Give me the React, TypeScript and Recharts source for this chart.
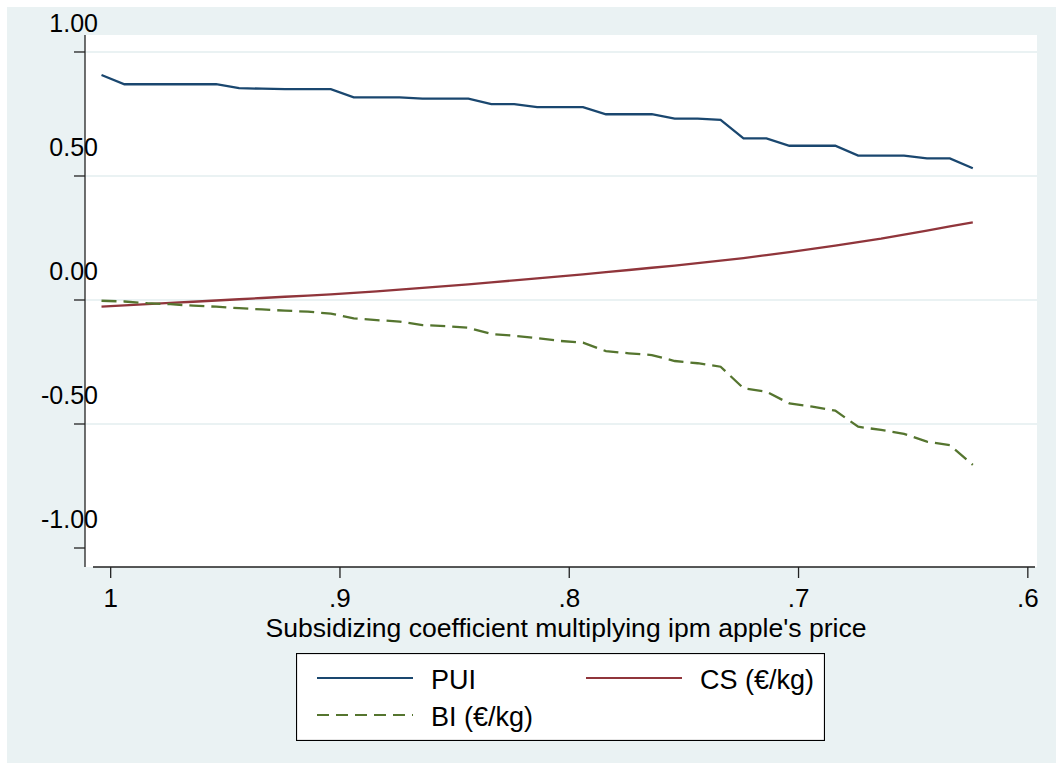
import React from 'react';
import { LineChart, Line, XAxis, YAxis, ReferenceLine, CartesianGrid, Legend, Label } from 'recharts';

const xValues = [1.004, 0.994, 0.984, 0.974, 0.964, 0.954, 0.944, 0.934, 0.924, 0.914, 0.904, 0.894, 0.884, 0.874, 0.864, 0.854, 0.844, 0.834, 0.824, 0.814, 0.804, 0.794, 0.784, 0.774, 0.764, 0.754, 0.744, 0.734, 0.724, 0.714, 0.704, 0.694, 0.684, 0.674, 0.664, 0.654, 0.644, 0.634, 0.624];
const puiValues = [0.907, 0.870, 0.870, 0.870, 0.870, 0.870, 0.854, 0.852, 0.850, 0.850, 0.850, 0.817, 0.817, 0.817, 0.812, 0.812, 0.812, 0.790, 0.790, 0.778, 0.778, 0.778, 0.749, 0.749, 0.749, 0.731, 0.731, 0.726, 0.652, 0.652, 0.622, 0.622, 0.622, 0.582, 0.582, 0.582, 0.571, 0.571, 0.531];
const csValues = [-0.027, -0.022, -0.017, -0.012, -0.007, -0.002, 0.003, 0.008, 0.013, 0.018, 0.023, 0.029, 0.035, 0.042, 0.049, 0.056, 0.063, 0.071, 0.079, 0.087, 0.095, 0.103, 0.112, 0.121, 0.130, 0.139, 0.149, 0.159, 0.169, 0.181, 0.193, 0.206, 0.219, 0.233, 0.247, 0.264, 0.280, 0.297, 0.313];
const biValues = [-0.003, -0.006, -0.013, -0.017, -0.023, -0.027, -0.033, -0.038, -0.043, -0.047, -0.055, -0.074, -0.081, -0.087, -0.101, -0.105, -0.112, -0.137, -0.144, -0.154, -0.165, -0.172, -0.206, -0.215, -0.222, -0.246, -0.255, -0.269, -0.356, -0.370, -0.417, -0.430, -0.446, -0.511, -0.524, -0.540, -0.571, -0.585, -0.665];

const xTicks = [1, 0.9, 0.8, 0.7, 0.6];
const xTickLabels = ['1', '.9', '.8', '.7', '.6'];
const yTicks = [1, 0.5, 0, -0.5, -1];
const yTickLabels = ['1.00', '0.50', '0.00', '-0.50', '-1.00'];
const gridValues = [1, 0.5, 0, -0.5];

const seriesNames = { pui: 'PUI', cs: 'CS (€/kg)', bi: 'BI (€/kg)' };
const xTitle = "Subsidizing coefficient multiplying ipm apple's price";

const data = xValues.map((x, i) => ({ x, pui: puiValues[i], cs: csValues[i], bi: biValues[i] }));

const FONT = '"Liberation Sans", Arial, Helvetica, sans-serif';
const NAVY = '#1A476F';
const MAROON = '#90353B';
const GREEN = '#55752F';
const BG = '#EAF2F3';

const YTick = (props: any) => {
  const { y, payload } = props;
  const idx = yTicks.indexOf(payload.value);
  return (
    <text x={98} y={y - 20} textAnchor="end" fontSize={25} fontFamily={FONT} fill="#000">
      {idx >= 0 ? yTickLabels[idx] : String(payload.value)}
    </text>
  );
};

const XTick = (props: any) => {
  const { x, y, payload } = props;
  const idx = xTicks.indexOf(payload.value);
  return (
    <text x={x} y={y + 27} textAnchor="middle" fontSize={26} fontFamily={FONT} fill="#000">
      {idx >= 0 ? xTickLabels[idx] : String(payload.value)}
    </text>
  );
};

const XTitle = (props: any) => {
  const vb = props.viewBox || {};
  return (
    <text x={vb.x + vb.width / 2 + 5} y={vb.y + 70} textAnchor="middle" fontSize={26} fontFamily={FONT} fill="#000" textLength={601} lengthAdjust="spacingAndGlyphs">
      {xTitle}
    </text>
  );
};

const LegendContent = (props: any) => {
  const payload = props.payload || [];
  const find = (k: string) => payload.find((p: any) => p.dataKey === k) || {};
  const items = [
    { key: 'pui', lx: 21, ly: 25 },
    { key: 'cs', lx: 290, ly: 25 },
    { key: 'bi', lx: 21, ly: 62 },
  ];
  return (
    <svg width={529} height={88} style={{ display: 'block' }}>
      <rect x={0.5} y={0.5} width={528} height={87} fill="#fff" stroke="#000" strokeWidth={1.2} />
      {items.map((it) => {
        const p: any = find(it.key);
        const color = p.color || '#000';
        const dashed = it.key === 'bi';
        return (
          <g key={it.key}>
            <line x1={it.lx} x2={it.lx + 96} y1={it.ly} y2={it.ly} stroke={color} strokeWidth={2.2} strokeDasharray={dashed ? '12 7' : undefined} />
            <text x={it.lx + 114} y={it.ly + 11} fontSize={27} fontFamily={FONT} fill="#000">
              {p.value}
            </text>
          </g>
        );
      })}
    </svg>
  );
};

export default function App() {
  return (
    <div style={{ position: 'absolute', left: 0, top: 0, width: 1056, height: 769, background: '#fff' }}>
      <div style={{ position: 'absolute', left: 7, top: 7, width: 1049, height: 756, background: BG }} />
      <div style={{ position: 'absolute', left: 0, top: 0 }}>
        <LineChart width={1056} height={769} data={data} margin={{ top: 35, right: 19, left: 0, bottom: 122 }}>
          <CartesianGrid fill="#fff" stroke="none" horizontal={false} vertical={false} />
          {gridValues.map((v) => (
            <ReferenceLine key={v} y={v} stroke={BG} strokeWidth={2} />
          ))}
          <XAxis
            dataKey="x"
            type="number"
            domain={[0.596, 1.0112]}
            reversed
            allowDataOverflow
            ticks={xTicks}
            tick={<XTick />}
            tickSize={11}
            tickLine={{ stroke: '#222', strokeWidth: 1.3 }}
            axisLine={{ stroke: '#222', strokeWidth: 1.3, strokeDasharray: '0 8 942 100' }}
            height={80}
            interval={0}
          >
            <Label content={<XTitle />} />
          </XAxis>
          <YAxis
            type="number"
            domain={[-1.0766, 1.0685]}
            allowDataOverflow
            ticks={yTicks}
            tick={<YTick />}
            tickSize={11}
            tickLine={{ stroke: '#222', strokeWidth: 1.3 }}
            axisLine={{ stroke: '#222', strokeWidth: 1.3 }}
            width={85}
            interval={0}
          />
          <Legend
            layout="horizontal"
            verticalAlign="middle"
            align="center"
            wrapperStyle={{ position: 'absolute', left: 296, top: 653, width: 529, height: 88 }}
            content={<LegendContent />}
          />
          <Line type="linear" dataKey="pui" name={seriesNames.pui} stroke={NAVY} strokeWidth={2.3} dot={false} isAnimationActive={false} />
          <Line type="linear" dataKey="cs" name={seriesNames.cs} stroke={MAROON} strokeWidth={2.3} dot={false} isAnimationActive={false} />
          <Line type="linear" dataKey="bi" name={seriesNames.bi} stroke={GREEN} strokeWidth={2.3} strokeDasharray="15 7" dot={false} isAnimationActive={false} />
        </LineChart>
      </div>
    </div>
  );
}
